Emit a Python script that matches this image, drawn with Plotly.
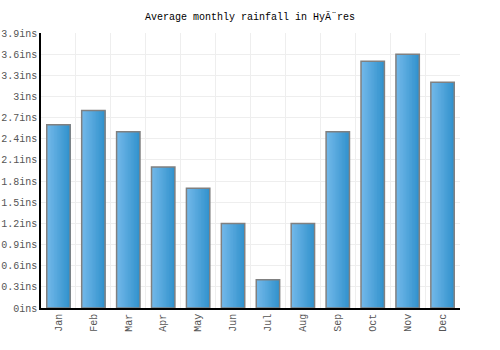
import plotly.graph_objects as go

months = ["Jan", "Feb", "Mar", "Apr", "May", "Jun", "Jul", "Aug", "Sep", "Oct", "Nov", "Dec"]
rainfall = [2.6, 2.8, 2.5, 2.0, 1.7, 1.2, 0.4, 1.2, 2.5, 3.5, 3.6, 3.2]
ytick_vals = [0, 0.3, 0.6, 0.9, 1.2, 1.5, 1.8, 2.1, 2.4, 2.7, 3.0, 3.3, 3.6, 3.9]
ytick_text = ["0ins", "0.3ins", "0.6ins", "0.9ins", "1.2ins", "1.5ins", "1.8ins", "2.1ins",
              "2.4ins", "2.7ins", "3ins", "3.3ins", "3.6ins", "3.9ins"]

FONT = "Liberation Mono"
fig = go.Figure()

bar_w = 0.67
n = 16
c0 = (114, 184, 233)
c1 = (50, 146, 205)
for i in range(n):
    t = i / (n - 1)
    col = tuple(round(a + (b - a) * t) for a, b in zip(c0, c1))
    start = -bar_w / 2 + i * bar_w / n
    fig.add_trace(go.Bar(
        x=months, y=rainfall,
        width=bar_w / 2 - start,
        offset=start,
        marker=dict(color="rgb(%d,%d,%d)" % col, line=dict(width=0)),
        hoverinfo="skip", showlegend=False,
    ))
fig.add_trace(go.Bar(
    x=months, y=rainfall, width=bar_w, offset=-bar_w / 2,
    marker=dict(color="rgba(0,0,0,0)", line=dict(color="#808080", width=1.5)),
    showlegend=False,
))

fig.update_layout(
    width=500, height=350,
    margin=dict(l=41, r=40, t=33, b=42),
    barmode="overlay",
    plot_bgcolor="white", paper_bgcolor="white",
    title=dict(text="Average monthly rainfall in HyÃ¨res", x=0.5, xanchor="center",
               y=1 - 16 / 350, yanchor="middle",
               font=dict(family=FONT, size=10, color="#000")),
    font=dict(family=FONT, size=10, color="#555"),
)
fig.update_xaxes(
    tickson="boundaries", showgrid=True, gridcolor="#eeeeee", gridwidth=1,
    showline=True, linecolor="#000", linewidth=1.5,
    tickangle=-90, ticks="", tickfont=dict(family=FONT, size=10, color="#555"),
    range=[-0.5, 11.5], automargin=False,
)
fig.update_yaxes(
    range=[0, 3.9], tickvals=ytick_vals, ticktext=ytick_text,
    showgrid=True, gridcolor="#eeeeee", gridwidth=1,
    showline=True, linecolor="#000", linewidth=1.5,
    ticks="", ticklen=0,
    tickfont=dict(family=FONT, size=10, color="#555"), zeroline=False,
    automargin=False,
)

fig.write_html("out.html")
